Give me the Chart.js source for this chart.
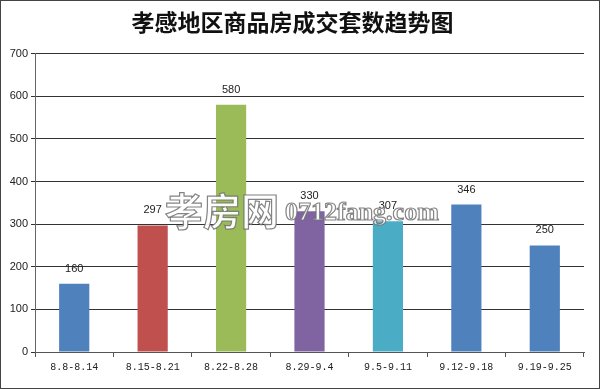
<!DOCTYPE html>
<html>
<head>
<meta charset="utf-8">
<script src="https://cdn.jsdelivr.net/npm/chart.js@4/dist/chart.umd.min.js"></script>
<style>
    body { margin: 0; background: #fff; }
    .frame { width: 598px; height: 387px; border: 1px solid #444; }
</style>
</head>
<body>
<div class="frame"><canvas id="chart" width="598" height="387"></canvas></div>
<script>
const titleText = '孝感地区商品房成交套数趋势图';
const weeks = ['8.8-8.14', '8.15-8.21', '8.22-8.28', '8.29-9.4', '9.5-9.11', '9.12-9.18', '9.19-9.25'];
const deals = [160, 297, 580, 330, 307, 346, 250];
const barColors = ['#4f81bd', '#c0504d', '#9bbb59', '#8064a2', '#4bacc6', '#4f81bd', '#4f81bd'];
const yTicks = [0, 100, 200, 300, 400, 500, 600, 700];

// numbers above each bar
const valueLabels = {
    id: 'valueLabels',
    afterDatasetsDraw(chart) {
        const ctx = chart.ctx;
        const meta = chart.getDatasetMeta(0);
        ctx.save();
        ctx.font = '11px "Liberation Sans", Arial, sans-serif';
        ctx.fillStyle = '#222';
        ctx.textAlign = 'center';
        ctx.textBaseline = 'middle';
        meta.data.forEach((bar, i) => {
            ctx.fillText(deals[i], bar.x, bar.y - 15);
        });
        ctx.restore();
    }
}

// site watermark over the middle of the plot
const watermark = {
    id: 'watermark',
    afterDraw(chart) {
        const ctx = chart.ctx;
        ctx.save();
        ctx.textBaseline = 'middle';
        ctx.lineWidth = 1.2;
        ctx.strokeStyle = 'rgba(110,110,110,0.85)';
        ctx.fillStyle = 'rgba(255,255,255,0.95)';
        ctx.font = 'bold 38px "Noto Sans CJK SC", sans-serif';
        ctx.fillText('孝房网', 164, 210);
        ctx.strokeText('孝房网', 164, 210);
        ctx.font = 'bold 26px "Liberation Serif", serif';
        ctx.fillText('0712fang.com', 284, 212);
        ctx.strokeText('0712fang.com', 284, 212);
        ctx.restore();
    }
}

new Chart(document.getElementById('chart'), {
    type: 'bar',
    data: {
        labels: weeks,
        datasets: [{
            data: deals,
            backgroundColor: barColors,
            barPercentage: 0.385,
            categoryPercentage: 1
        }]
    },
    options: {
        responsive: false,
        animation: false,
        layout: { padding: { left: 0, right: 15, top: 0, bottom: 0 } },
        plugins: {
            legend: { display: false },
            tooltip: { enabled: false },
            title: {
                display: true,
                text: titleText,
                color: '#111',
                font: { family: '"Noto Sans CJK SC", sans-serif', size: 23, weight: 'bold' },
                padding: { top: 7, bottom: 18 }
            }
        },
        scales: {
            x: {
                afterFit: scale => { scale.height = 36; },
                border: { color: '#555', width: 1 },
                grid: { offset: true, drawOnChartArea: false, drawTicks: true, tickLength: 5, color: '#555' },
                ticks: {
                    color: '#222',
                    padding: 4,
                    maxRotation: 0,
                    font: { family: '"Liberation Mono", monospace', size: 10 }
                }
            },
            y: {
                min: 0,
                max: 700,
                afterFit: scale => { scale.width = 34; },
                afterBuildTicks: scale => { scale.ticks = yTicks.map(v => ({ value: v })); },
                border: { color: '#666', width: 1 },
                grid: { color: '#333', tickLength: 4 },
                ticks: {
                    color: '#222',
                    padding: 3,
                    font: { family: '"Liberation Sans", Arial, sans-serif', size: 11 }
                }
            }
        }
    },
    plugins: [valueLabels, watermark]
});
</script>
</body>
</html>
